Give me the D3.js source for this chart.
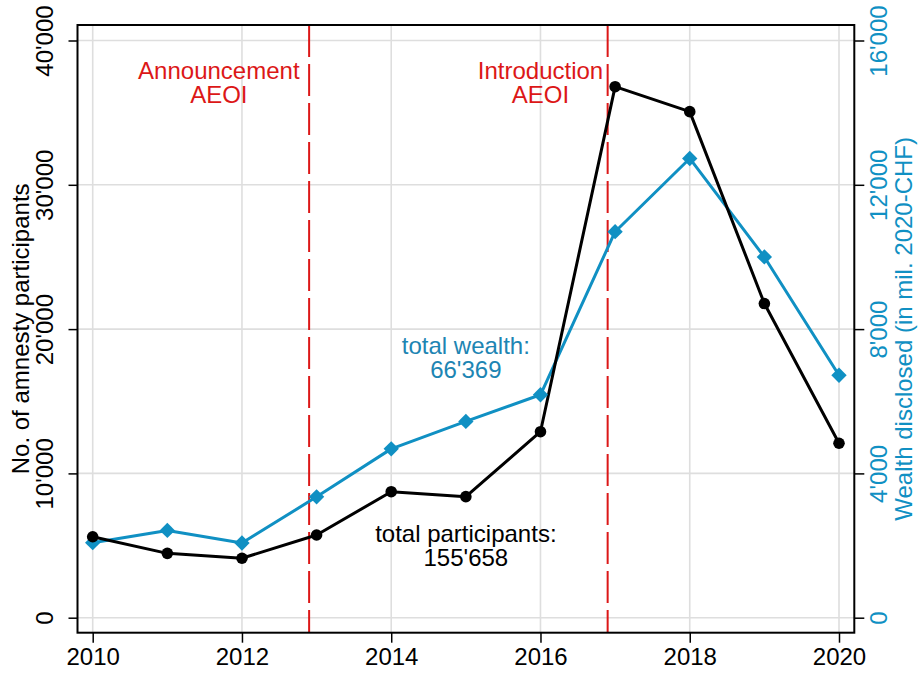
<!doctype html>
<html lang="en">
  <head>
    <meta charset="utf-8">
    <title>Amnesty participants and wealth disclosed</title>
    <script src="https://d3js.org/d3.v7.min.js"></script>
    <style>
      body { margin: 0; background: #fff; }
      text { font-family: "Liberation Sans", Arial, sans-serif; }
    </style>
  </head>

  <body>
    <svg width="920" height="673"></svg>

    <script>
      // data
      var years = [2010, 2011, 2012, 2013, 2014, 2015, 2016, 2017, 2018, 2019, 2020];
      var participants = [5610, 4460, 4120, 5730, 8730, 8390, 12890, 36800, 35070, 21770, 12090];
      var wealth = [2080, 2420, 2070, 3350, 4680, 5440, 6180, 10700, 12730, 10000, 6720];

      var xTicks = [2010, 2012, 2014, 2016, 2018, 2020];
      var leftTicks = [0, 10000, 20000, 30000, 40000];
      var rightTicks = [0, 4000, 8000, 12000, 16000];

      var eventYears = [2012.9, 2016.9];
      var eventLabels = [["Announcement", "AEOI"], ["Introduction", "AEOI"]];
      var eventLabelX = [2011.69, 2016.0];
      var eventLabelY = 37330;

      var totalWealthLabel = ["total wealth:", "66'369"];
      var totalPartLabel = ["total participants:", "155'658"];

      var BLUE = "#1090c3";
      var BLUE_TEXT = "#1d85b3";
      var RED = "#dc1717";
      var GRID = "#dedede";

      var svg = d3.select('svg');

      var box = {left: 77.5, right: 854.3, top: 25, bottom: 632.7};

      var x = d3.scaleLinear().domain([2010, 2020]).range([92.7, 839]);
      var yL = d3.scaleLinear().domain([0, 40000]).range([617.7, 40.5]);
      var yR = d3.scaleLinear().domain([0, 16000]).range([617.7, 40.5]);

      var fmt = d3.formatLocale({decimal: ".", thousands: "'", grouping: [3], currency: ["", ""]}).format(",d");

      // gridlines
      svg.append('g').selectAll('line').data(leftTicks).enter().append('line')
          .attr('x1', box.left).attr('x2', box.right)
          .attr('y1', function(d){ return yL(d); }).attr('y2', function(d){ return yL(d); })
          .attr('stroke', GRID).attr('stroke-width', 1.6);
      svg.append('g').selectAll('line').data(xTicks).enter().append('line')
          .attr('y1', box.top).attr('y2', box.bottom)
          .attr('x1', function(d){ return x(d); }).attr('x2', function(d){ return x(d); })
          .attr('stroke', GRID).attr('stroke-width', 1.6);

      // event lines
      svg.append('g').selectAll('line').data(eventYears).enter().append('line')
          .attr('x1', function(d){ return x(d); }).attr('x2', function(d){ return x(d); })
          .attr('y1', box.top).attr('y2', box.bottom)
          .attr('stroke', RED).attr('stroke-width', 2)
          .attr('stroke-dasharray', '32,7');

      // axes
      var styleAxis = function(g){
        g.select('.domain').remove();
        g.selectAll('.tick line').attr('stroke', '#000').attr('stroke-width', 1.5);
        g.selectAll('.tick text').attr('font-size', 24).attr('font-family', '"Liberation Sans", Arial, sans-serif');
      };

      var gx = svg.append('g')
          .attr('transform', 'translate(0,' + box.bottom + ')')
          .call(d3.axisBottom(x).tickValues(xTicks).tickSize(10).tickFormat(d3.format('d')));
      styleAxis(gx);
      gx.selectAll('.tick text').attr('y', 32).attr('dy', 0).attr('fill', '#000');

      var gl = svg.append('g')
          .attr('transform', 'translate(' + box.left + ',0)')
          .call(d3.axisLeft(yL).tickValues(leftTicks).tickSize(9).tickFormat(fmt));
      styleAxis(gl);
      gl.selectAll('.tick text')
          .attr('x', 0).attr('y', -24.5).attr('dy', 0)
          .attr('text-anchor', 'middle')
          .attr('transform', 'rotate(-90)')
          .attr('fill', '#000');

      var gr = svg.append('g')
          .attr('transform', 'translate(' + box.right + ',0)')
          .call(d3.axisRight(yR).tickValues(rightTicks).tickSize(10).tickFormat(fmt));
      styleAxis(gr);
      gr.selectAll('.tick text')
          .attr('x', 0).attr('y', 32.7).attr('dy', 0)
          .attr('text-anchor', 'middle')
          .attr('transform', 'rotate(-90)')
          .attr('fill', BLUE);

      // frame
      svg.append('rect')
          .attr('x', box.left).attr('y', box.top)
          .attr('width', box.right - box.left).attr('height', box.bottom - box.top)
          .attr('fill', 'none').attr('stroke', '#000').attr('stroke-width', 2);

      // axis titles
      svg.append('text')
          .attr('transform', 'translate(29,' + ((box.top + box.bottom) / 2) + ') rotate(-90)')
          .attr('text-anchor', 'middle').attr('font-size', 24).attr('fill', '#000')
          .text('No. of amnesty participants');
      svg.append('text')
          .attr('transform', 'translate(912,' + ((box.top + box.bottom) / 2) + ') rotate(-90)')
          .attr('text-anchor', 'middle').attr('font-size', 24).attr('fill', BLUE)
          .text('Wealth disclosed (in mil. 2020-CHF)');

      // series lines
      var wealthLine = d3.line()
          .x(function(d, i){ return x(years[i]); })
          .y(function(d){ return yR(d); });
      var partLine = d3.line()
          .x(function(d, i){ return x(years[i]); })
          .y(function(d){ return yL(d); });

      svg.append('path').datum(wealth)
          .attr('d', wealthLine).attr('fill', 'none')
          .attr('stroke', BLUE).attr('stroke-width', 3).attr('stroke-linejoin', 'round');
      svg.append('path').datum(participants)
          .attr('d', partLine).attr('fill', 'none')
          .attr('stroke', '#000').attr('stroke-width', 3).attr('stroke-linejoin', 'round');

      svg.append('g').selectAll('path').data(wealth).enter().append('path')
          .attr('d', d3.symbol().type(d3.symbolDiamond2).size(150))
          .attr('transform', function(d, i){ return 'translate(' + x(years[i]) + ',' + yR(d) + ')'; })
          .attr('fill', BLUE);
      svg.append('g').selectAll('circle').data(participants).enter().append('circle')
          .attr('cx', function(d, i){ return x(years[i]); })
          .attr('cy', function(d){ return yL(d); })
          .attr('r', 5.8).attr('fill', '#000');

      // text labels
      var twoLines = function(lines, cx, cy, color){
        var t = svg.append('text')
            .attr('text-anchor', 'middle').attr('font-size', 24).attr('fill', color);
        lines.forEach(function(s, i){
          t.append('tspan').attr('x', cx).attr('y', cy + i * 24).text(s);
        });
      };

      eventLabels.forEach(function(lines, i){
        twoLines(lines, x(eventLabelX[i]), yL(eventLabelY), RED);
      });
      twoLines(totalWealthLabel, x(2015), yL(18254), BLUE_TEXT);
      twoLines(totalPartLabel, x(2015), yL(5267), '#000');
    </script>
  </body>
</html>
